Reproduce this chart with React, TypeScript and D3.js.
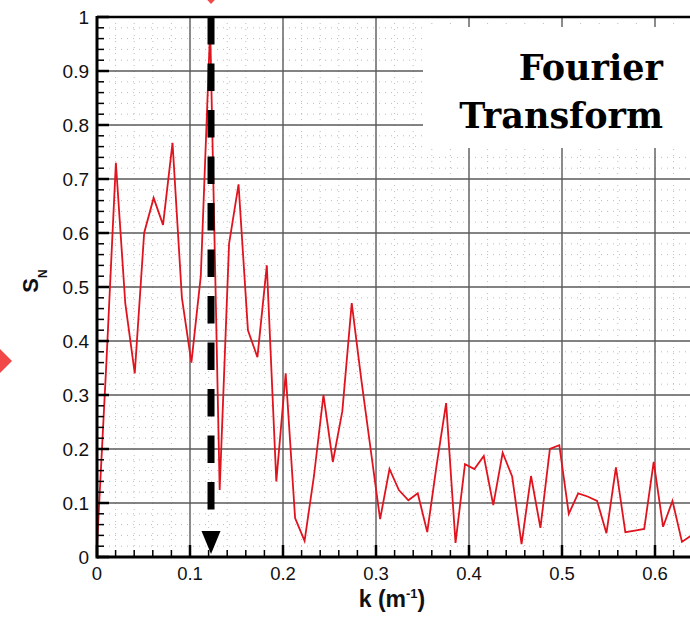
import React from "react";
import * as d3 from "d3";

const kValues = [
  0, 0.0101, 0.0203, 0.0304, 0.0406, 0.0507, 0.0609, 0.071, 0.0812, 0.0913,
  0.1015, 0.1116, 0.1217, 0.1319, 0.142, 0.1522, 0.1623, 0.1725, 0.1826, 0.1928,
  0.2029, 0.213, 0.2232, 0.2333, 0.2435, 0.2536, 0.2638, 0.2739, 0.2841, 0.2942,
  0.3044, 0.3145, 0.3246, 0.3348, 0.3449, 0.3551, 0.3652, 0.3754, 0.3855, 0.3957,
  0.4058, 0.4159, 0.4261, 0.4362, 0.4464, 0.4565, 0.4667, 0.4768, 0.487, 0.4971,
  0.5073, 0.5174, 0.5275, 0.5377, 0.5478, 0.558, 0.5681, 0.5783, 0.5884, 0.5986,
  0.6087, 0.6188, 0.629, 0.6391,
];
const snValues = [
  0.02, 0.36, 0.73, 0.47, 0.34, 0.6, 0.665, 0.615, 0.767, 0.48,
  0.36, 0.52, 0.98, 0.124, 0.58, 0.69, 0.42, 0.37, 0.54, 0.14,
  0.34, 0.072, 0.03, 0.15, 0.3, 0.176, 0.27, 0.47, 0.33, 0.2,
  0.07, 0.163, 0.124, 0.105, 0.118, 0.046, 0.17, 0.285, 0.026, 0.172,
  0.163, 0.187, 0.096, 0.193, 0.149, 0.024, 0.15, 0.054, 0.2, 0.207,
  0.08, 0.118, 0.112, 0.104, 0.044, 0.166, 0.046, 0.049, 0.052, 0.176,
  0.056, 0.104, 0.028, 0.04,
];
const xMajorTicks = [0, 0.1, 0.2, 0.3, 0.4, 0.5, 0.6];
const yMajorTicks = [0, 0.1, 0.2, 0.3, 0.4, 0.5, 0.6, 0.7, 0.8, 0.9, 1];
const xMinorTicks = [0.02, 0.04, 0.06, 0.08, 0.12, 0.14, 0.16, 0.18, 0.22, 0.24, 0.26, 0.28, 0.32, 0.34, 0.36, 0.38, 0.42, 0.44, 0.46, 0.48, 0.52, 0.54, 0.56, 0.58, 0.62, 0.64];
const yMinorTicks = [0.02, 0.04, 0.06, 0.08, 0.12, 0.14, 0.16, 0.18, 0.22, 0.24, 0.26, 0.28, 0.32, 0.34, 0.36, 0.38, 0.42, 0.44, 0.46, 0.48, 0.52, 0.54, 0.56, 0.58, 0.62, 0.64, 0.66, 0.68, 0.72, 0.74, 0.76, 0.78, 0.82, 0.84, 0.86, 0.88, 0.92, 0.94, 0.96, 0.98];
const arrowK = 0.1226;
const titleLines = ["Fourier", "Transform"];

export default function App() {
  const W = 690, H = 617;
  const x = d3.scaleLinear().domain([0, 0.65]).range([97, 97 + 0.65 * 930]);
  const y = d3.scaleLinear().domain([0, 1]).range([557, 17]);
  const line = d3.line<number>().x((_, i) => x(kValues[i])).y((d) => y(d));
  const fmt = (v: number) => String(+v.toFixed(1));
  const xr = W + 20;
  const ax = x(arrowK);
  const font = "'Liberation Sans', Arial, sans-serif";

  return (
    <svg width={W} height={H} style={{ position: "absolute", left: 0, top: 0, display: "block", background: "#fff" }}>
      {/* minor dotted grid */}
      {xMinorTicks.map((t) => (
        <line key={"xm" + t} x1={x(t)} x2={x(t)} y1={y(1)} y2={y(0)} stroke="#bdbdbd" strokeWidth={1} strokeDasharray="1 5" />
      ))}
      {yMinorTicks.map((t) => (
        <line key={"ym" + t} x1={x(0)} x2={xr} y1={y(t)} y2={y(t)} stroke="#bdbdbd" strokeWidth={1} strokeDasharray="1 5" />
      ))}
      {/* major grid */}
      {xMajorTicks.map((t) => (
        <line key={"xg" + t} x1={x(t)} x2={x(t)} y1={y(1)} y2={y(0)} stroke="#5a5a5a" strokeWidth={1.4} />
      ))}
      {yMajorTicks.map((t) => (
        <line key={"yg" + t} x1={x(0)} x2={xr} y1={y(t)} y2={y(t)} stroke="#5a5a5a" strokeWidth={1.4} />
      ))}
      {/* white title box */}
      <rect x={423} y={27} width={280} height={121} fill="#fff" />
      {titleLines.map((t, i) => (
        <text key={t} x={663} y={80 + i * 48} textAnchor="end" fontFamily="'DejaVu Serif', serif" fontWeight="bold" fontSize={35} fill="#000">
          {t}
        </text>
      ))}
      {/* data line */}
      <path d={line(snValues) || ""} fill="none" stroke="#e0141e" strokeWidth={1.8} strokeLinejoin="miter" />
      {/* axes */}
      <line x1={x(0)} x2={xr} y1={y(1)} y2={y(1)} stroke="#000" strokeWidth={2.5} />
      <line x1={x(0)} x2={xr} y1={y(0)} y2={y(0)} stroke="#000" strokeWidth={3} />
      <line x1={x(0)} x2={x(0)} y1={y(1) - 1} y2={y(0) + 1.5} stroke="#000" strokeWidth={3} />
      {/* ticks */}
      {yMajorTicks.map((t) => (
        <line key={"yt" + t} x1={x(0)} x2={x(0) + 12} y1={y(t)} y2={y(t)} stroke="#000" strokeWidth={2.5} />
      ))}
      {yMinorTicks.map((t) => (
        <line key={"ymt" + t} x1={x(0)} x2={x(0) + 7} y1={y(t)} y2={y(t)} stroke="#000" strokeWidth={1.5} />
      ))}
      {xMajorTicks.map((t) => (
        <line key={"xt" + t} x1={x(t)} x2={x(t)} y1={y(0)} y2={y(0) - 12} stroke="#000" strokeWidth={2.5} />
      ))}
      {xMinorTicks.map((t) => (
        <line key={"xmt" + t} x1={x(t)} x2={x(t)} y1={y(0)} y2={y(0) - 7} stroke="#000" strokeWidth={1.5} />
      ))}
      {/* tick labels */}
      {yMajorTicks.map((t) => (
        <text key={"yl" + t} x={89} y={y(t)} dy="0.36em" textAnchor="end" fontFamily={font} fontSize={19} fill="#111">
          {fmt(t)}
        </text>
      ))}
      {xMajorTicks.map((t) => (
        <text key={"xl" + t} x={x(t)} y={580} textAnchor="middle" fontFamily={font} fontSize={18.5} fill="#111">
          {fmt(t)}
        </text>
      ))}
      {/* axis titles */}
      <text x={392} y={607} textAnchor="middle" fontFamily={font} fontWeight="bold" fontSize={23} fill="#111">
        k (m<tspan dy={-9} fontSize={13}>-1</tspan><tspan dy={9}>)</tspan>
      </text>
      <text transform={`translate(38,281) rotate(-90)`} textAnchor="middle" fontFamily={font} fontWeight="bold" fontSize={22} fill="#111">
        S<tspan dy={9} fontSize={12}>N</tspan>
      </text>
      {/* dashed arrow */}
      <line x1={ax} x2={ax} y1={y(1)} y2={512} stroke="#000" strokeWidth={7} strokeDasharray="27.5 19" />
      <path d={`M${ax - 9.5},531 L${ax + 9.5},531 L${ax},554 Z`} fill="#000" />
      {/* red diamonds at edges */}
      <path d={`M${ax},-24 L${ax + 13},-10 L${ax},4 L${ax - 13},-10 Z`} fill="#f24848" />
      <path d="M-2,347 L12,361 L-2,375 L-16,361 Z" fill="#f24848" />
    </svg>
  );
}
